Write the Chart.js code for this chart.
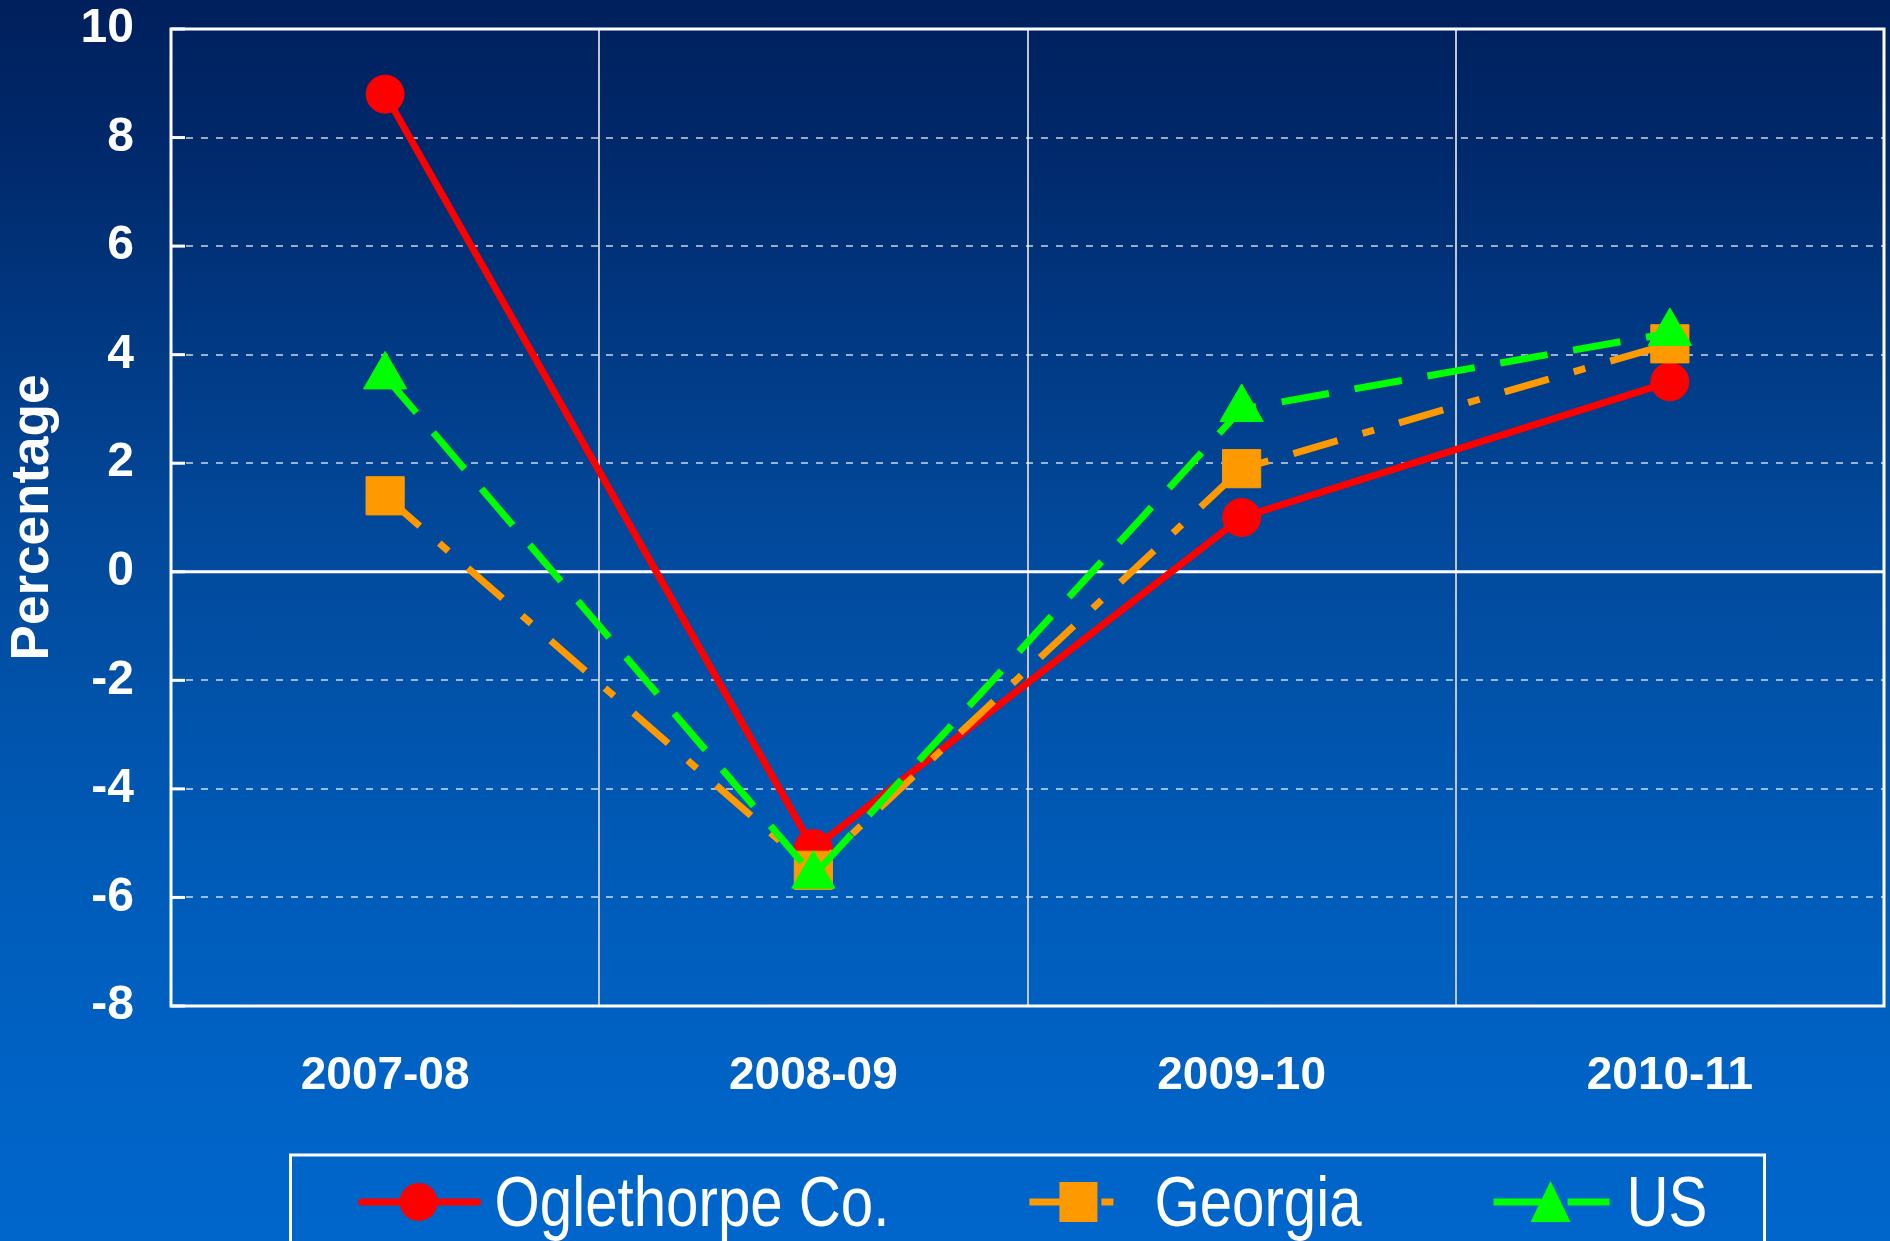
<!DOCTYPE html>
<html>
<head>
<meta charset="utf-8">
<title>Percentage change</title>
<script src="https://cdn.jsdelivr.net/npm/chart.js@4.4.1/dist/chart.umd.min.js"></script>
<style>
  html, body { margin: 0; padding: 0; }
  body {
    width: 1890px;
    height: 1241px;
    overflow: hidden;
    background: linear-gradient(to bottom, #001f5c 0%, #00296b 12%, #02489a 42%, #005ab6 68%, #0062c4 86%, #0066cc 100%);
  }
  #chartBox { position: relative; width: 1890px; height: 1241px; }
</style>
</head>
<body>
<div id="chartBox"><canvas id="lineChart"></canvas></div>
<script>
// data
const years = ['2007-08', '2008-09', '2009-10', '2010-11'];
const seriesNames = ['Oglethorpe Co.', 'Georgia', 'US'];
const oglethorpeValues = [8.8, -5.1, 1.0, 3.5];
const georgiaValues = [1.4, -5.5, 1.9, 4.2];
const usValues = [3.6, -5.6, 3.0, 4.4];
const yMin = -8;
const yMax = 10;
const yStep = 2;
const yTitle = 'Percentage';

// look of each series
const seriesStyles = [
    { color: '#ff0000', dash: [], pointStyle: 'circle', radius: 19, keyOffset: 0 },
    { color: '#ff9900', dash: [46, 26, 12, 26], pointStyle: 'rect', radius: 27, keyOffset: 102 },
    { color: '#00ff00', dash: [48, 26], pointStyle: 'triangle', radius: 25, keyOffset: 0 }
];
const seriesValues = [oglethorpeValues, georgiaValues, usValues];

const tickFont = '"Liberation Sans", Arial, sans-serif';

// white frame, solid zero line and the short inside ticks
const plotFramePlugin = {
    id: 'plotFrame',
    beforeDatasetsDraw(chart) {
        const ctx = chart.ctx;
        const area = chart.chartArea;
        const yScale = chart.scales.y;
        ctx.save();
        ctx.strokeStyle = '#ffffff';
        ctx.lineWidth = 3;
        const zeroY = yScale.getPixelForValue(0);
        ctx.beginPath();
        ctx.moveTo(area.left, zeroY);
        ctx.lineTo(area.right, zeroY);
        ctx.stroke();
        yScale.ticks.forEach(t => {
            const py = yScale.getPixelForValue(t.value);
            ctx.beginPath();
            ctx.moveTo(area.left, py);
            ctx.lineTo(area.left + 14, py);
            ctx.stroke();
        });
        ctx.strokeRect(area.left, area.top, area.right - area.left, area.bottom - area.top);
        ctx.restore();
    }
};

function drawMarker(ctx, style, x, y) {
    ctx.fillStyle = style.color;
    ctx.beginPath();
    if (style.pointStyle === 'circle') {
        ctx.arc(x, y, 19, 0, Math.PI * 2);
    } else if (style.pointStyle === 'rect') {
        ctx.rect(x - 19, y - 20, 38, 40);
    } else {
        ctx.moveTo(x, y - 21);
        ctx.lineTo(x + 20, y + 20);
        ctx.lineTo(x - 20, y + 20);
        ctx.closePath();
    }
    ctx.fill();
}

// boxed legend under the axis, line sample + marker + name (narrow type)
const legendBoxPlugin = {
    id: 'legendBox',
    afterDraw(chart) {
        const ctx = chart.ctx;
        const area = chart.chartArea;
        const midX = (area.left + area.right) / 2;
        const boxTop = area.bottom + 149;
        const markY = area.bottom + 196;
        const baseY = area.bottom + 220;
        const squeeze = 0.82;

        ctx.save();
        ctx.strokeStyle = '#ffffff';
        ctx.lineWidth = 3;
        ctx.strokeRect(midX - 737, boxTop, 1474, 200);

        ctx.font = '71px ' + tickFont;
        const widths = seriesNames.map(n => ctx.measureText(n).width * squeeze);
        let groupWidth = 57;
        widths.forEach((w, i) => { groupWidth += 76 + w + (i < widths.length - 1 ? 189 : 0); });
        let cx = midX + 7 - groupWidth / 2 + 57;

        seriesNames.forEach((name, i) => {
            const style = seriesStyles[i];
            ctx.strokeStyle = style.color;
            ctx.lineWidth = 7;
            ctx.lineCap = style.dash.length ? 'butt' : 'round';
            ctx.setLineDash(style.dash);
            ctx.lineDashOffset = style.keyOffset;
            ctx.beginPath();
            ctx.moveTo(cx - 57, markY);
            ctx.lineTo(cx + 59, markY);
            ctx.stroke();
            ctx.setLineDash([]);
            drawMarker(ctx, style, cx, markY);

            ctx.save();
            ctx.translate(cx + 76, baseY);
            ctx.scale(squeeze, 1);
            ctx.fillStyle = '#ffffff';
            ctx.textBaseline = 'alphabetic';
            ctx.textAlign = 'left';
            ctx.fillText(name, 0, 0);
            ctx.restore();
            cx += 76 + widths[i] + 189;
        });
        ctx.restore();
    }
};

const datasets = seriesNames.map((name, i) => ({
    label: name,
    data: seriesValues[i],
    borderColor: seriesStyles[i].color,
    backgroundColor: seriesStyles[i].color,
    borderWidth: 7,
    borderDash: seriesStyles[i].dash,
    borderCapStyle: 'butt',
    pointStyle: seriesStyles[i].pointStyle,
    pointRadius: seriesStyles[i].radius,
    pointHoverRadius: seriesStyles[i].radius,
    pointBackgroundColor: seriesStyles[i].color,
    pointBorderColor: seriesStyles[i].color,
    pointBorderWidth: 1,
    tension: 0,
    order: seriesNames.length - i
}));

new Chart(document.getElementById('lineChart'), {
    type: 'line',
    data: { labels: years, datasets: datasets },
    options: {
        responsive: true,
        maintainAspectRatio: false,
        animation: false,
        layout: { autoPadding: false, padding: { top: 29, right: 6, bottom: 135, left: 0 } },
        plugins: {
            legend: { display: false },
            tooltip: { enabled: false }
        },
        scales: {
            x: {
                offset: true,
                afterFit: s => { s.height = 100; },
                grid: { offset: true, color: '#c0c4cc', lineWidth: 2, drawTicks: false },
                border: { display: false },
                ticks: {
                    color: '#ffffff',
                    padding: 43,
                    font: { family: tickFont, size: 46, weight: 'bold' }
                }
            },
            y: {
                min: yMin,
                max: yMax,
                afterFit: s => {
                    s.width = 171;
                    s.paddingTop = 0;
                    s.paddingBottom = 0;
                },
                grid: {
                    drawTicks: false,
                    lineWidth: 2,
                    color: c => (c.tick && (c.tick.value === 0 || c.tick.value === yMin || c.tick.value === yMax))
                        ? 'rgba(0,0,0,0)' : 'rgba(255,255,255,0.6)'
                },
                border: { display: false, dash: [7, 8] },
                ticks: {
                    stepSize: yStep,
                    color: '#ffffff',
                    padding: 37,
                    font: { family: tickFont, size: 48, weight: 'bold' }
                },
                title: {
                    display: true,
                    text: yTitle,
                    color: '#ffffff',
                    padding: { top: 2, bottom: 0 },
                    font: { family: tickFont, size: 53, weight: 'bold' }
                }
            }
        }
    },
    plugins: [plotFramePlugin, legendBoxPlugin]
});
</script>
</body>
</html>
